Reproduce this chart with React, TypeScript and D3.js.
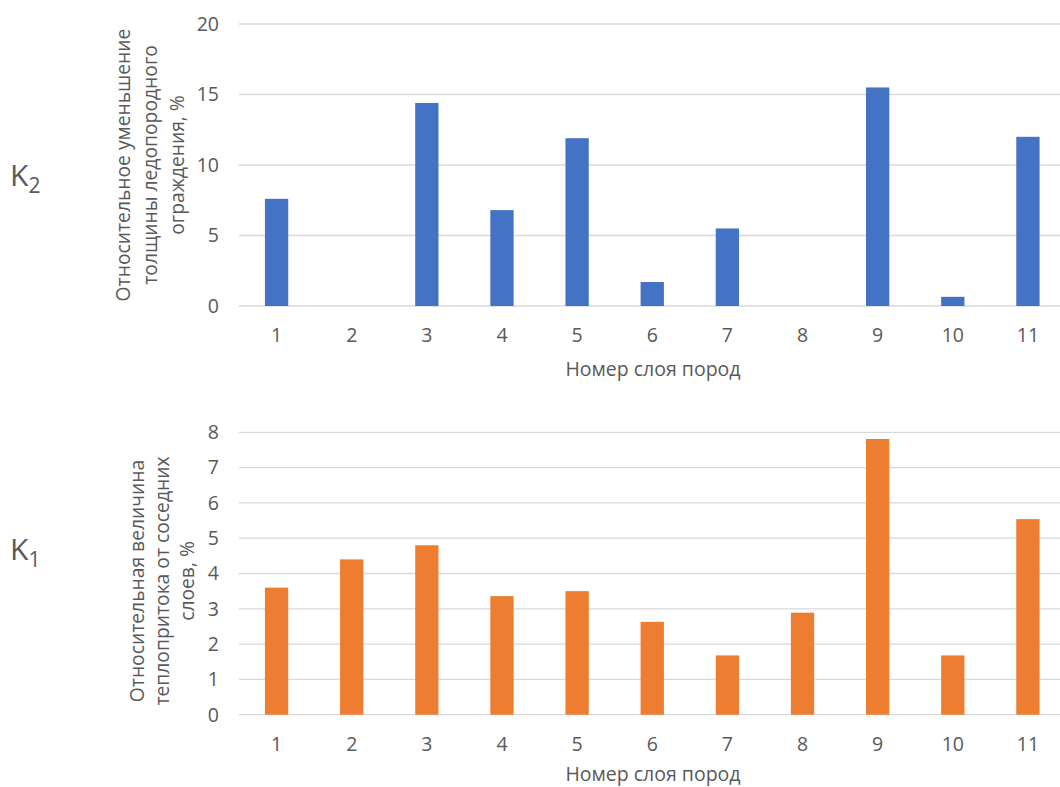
import React from "react";
import * as d3 from "d3";

const categories = ["1", "2", "3", "4", "5", "6", "7", "8", "9", "10", "11"];
const k2Values = [7.6, 0, 14.4, 6.8, 11.9, 1.7, 5.5, 0, 15.5, 0.65, 12.0];
const k1Values = [3.6, 4.4, 4.8, 3.36, 3.5, 2.63, 1.68, 2.89, 7.81, 1.68, 5.54];
const k2Ticks = [0, 5, 10, 15, 20];
const k1Ticks = [0, 1, 2, 3, 4, 5, 6, 7, 8];
const xTitle = "Номер слоя пород";
const k2TitleLines = ["Относительное уменьшение", "толщины ледопородного", "ограждения, %"];
const k1TitleLines = ["Относительная величина", "теплопритока от соседних", "слоев, %"];

const FONT = "'Open Sans', sans-serif";
const TEXT = "#595959";

type PanelProps = {
  values: number[];
  ticks: number[];
  yMax: number;
  top: number;
  bottom: number;
  color: string;
  titleLines: string[];
  titleCenterY: number;
  titleX: number[];
  label: string;
  sub: string;
  labelY: number;
  xTitleY: number;
};

const x = d3.scaleBand<string>().domain(categories).range([239, 1065.5]).paddingInner(0.69).paddingOuter(0.345);

function Panel(p: PanelProps) {
  const y = d3.scaleLinear().domain([0, p.yMax]).range([p.bottom, p.top]);
  return (
    <g>
      {p.ticks.map((t) => (
        <g key={t}>
          <line x1={239} x2={1060} y1={y(t)} y2={y(t)} stroke="#d9d9d9" strokeWidth={1.3} />
          <text x={219} y={y(t)} dy="0.35em" textAnchor="end" fontSize={19.5} fill={TEXT} fontFamily={FONT}>
            {t}
          </text>
        </g>
      ))}
      {p.values.map((v, i) => (
        <rect
          key={i}
          x={x(categories[i])}
          width={x.bandwidth()}
          y={y(v)}
          height={p.bottom - y(v)}
          fill={p.color}
        />
      ))}
      {categories.map((c) => (
        <text
          key={c}
          x={(x(c) as number) + x.bandwidth() / 2}
          y={p.bottom + 29}
          dy="0.35em"
          textAnchor="middle"
          fontSize={19.5}
          fill={TEXT}
          fontFamily={FONT}
        >
          {c}
        </text>
      ))}
      <text x={653} y={p.xTitleY} dy="0.35em" textAnchor="middle" fontSize={19.5} fill={TEXT} fontFamily={FONT}>
        {xTitle}
      </text>
      {p.titleLines.map((l, i) => (
        <text
          key={i}
          transform={`translate(${p.titleX[i]},${p.titleCenterY}) rotate(-90)`}
          dy="0.35em"
          textAnchor="middle"
          fontSize={19.3}
          fill={TEXT}
          fontFamily={FONT}
        >
          {l}
        </text>
      ))}
      <text x={10} y={p.labelY} fontSize={30} fill={TEXT} fontFamily={FONT}>
        {p.label}
        <tspan fontSize={21} dy={7}>
          {p.sub}
        </tspan>
      </text>
    </g>
  );
}

export default function App() {
  return (
    <svg
      width={1060}
      height={787}
      style={{ position: "absolute", left: 0, top: 0, background: "#fff" }}
    >
      <rect width={1060} height={787} fill="#fff" />
      <Panel
        values={k2Values}
        ticks={k2Ticks}
        yMax={20}
        top={24}
        bottom={306}
        color="#4472C4"
        titleLines={k2TitleLines}
        titleCenterY={165}
        titleX={[123, 150, 177]}
        label="K"
        sub="2"
        labelY={186}
        xTitleY={369}
      />
      <Panel
        values={k1Values}
        ticks={k1Ticks}
        yMax={8}
        top={432.3}
        bottom={714.7}
        color="#ED7D31"
        titleLines={k1TitleLines}
        titleCenterY={581}
        titleX={[137, 162, 187]}
        label="K"
        sub="1"
        labelY={560}
        xTitleY={774}
      />
    </svg>
  );
}
